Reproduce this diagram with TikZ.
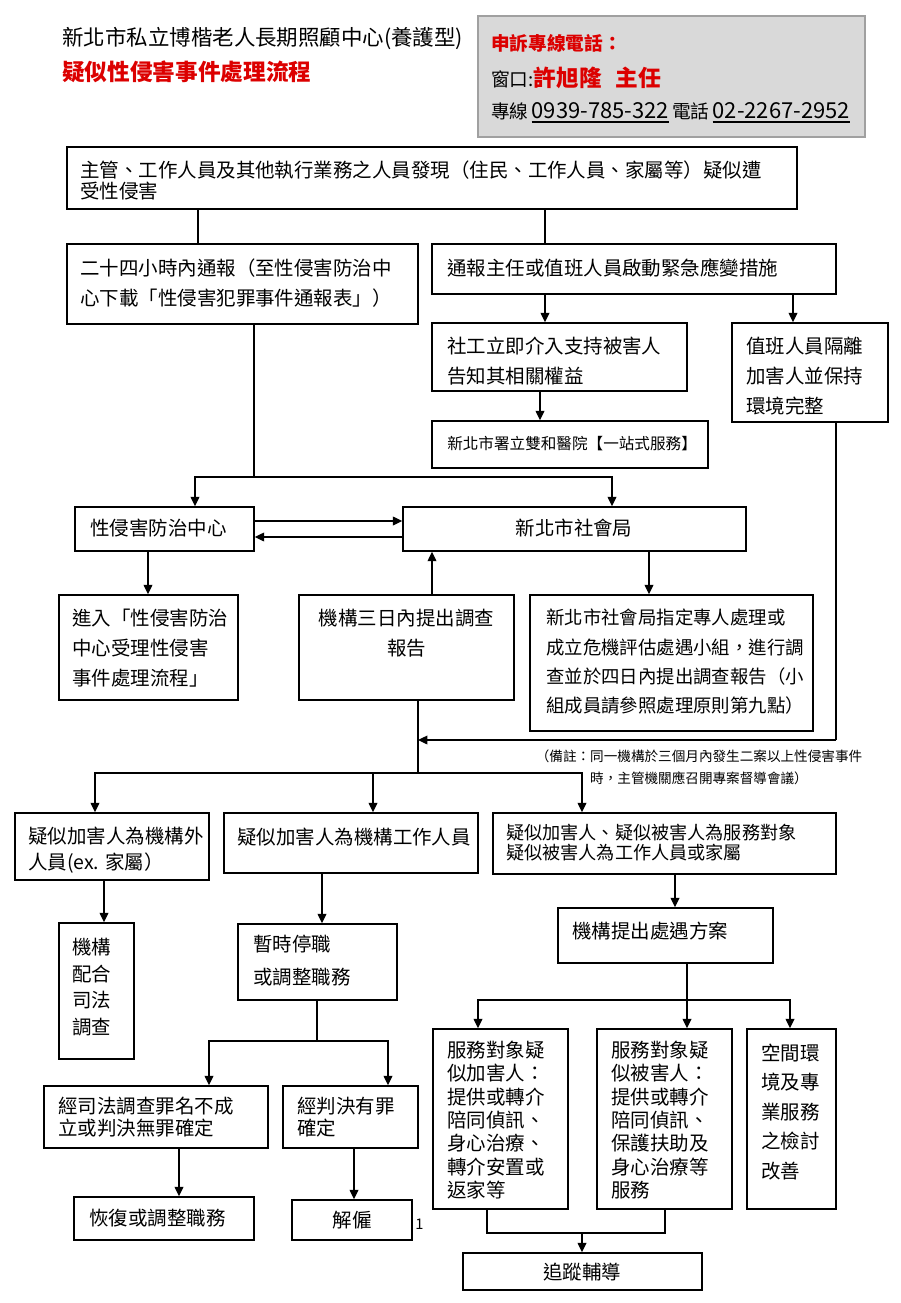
\documentclass[tikz,border=0pt]{standalone}
\usepackage{fontspec}
\setmainfont{Noto Sans CJK TC}
\usetikzlibrary{arrows.meta,fit}
\definecolor{tred}{RGB}{220,0,0}
\definecolor{gbox}{RGB}{217,217,217}
\definecolor{gedge}{RGB}{160,160,160}
\newcommand{\thickul}[1]{\begingroup\setbox0\hbox{#1}\rlap{\rule[-3.4pt]{\wd0}{1.5pt}}\box0\endgroup}
\newcommand{\bx}[5]{\node[box, fit={(#2,#3) (#4,#5)}] (#1) {};}
\tikzset{
 box/.style={draw=black, line width=1.1pt, inner sep=0pt},
 ln/.style={line width=1pt},
 arr/.style={line width=1pt, -{Triangle[length=7pt,width=6.5pt]}},
 txt/.style={inner sep=0pt, align=left, anchor=west, font=\fontsize{14.6}{22.5}\selectfont},
 ctxt/.style={inner sep=0pt, align=center, font=\fontsize{14.6}{22.5}\selectfont},
 lsp/.style={font=\fontsize{14.6}{#1}\selectfont},
}
\begin{document}
\begin{tikzpicture}[x=0.75pt,y=-0.75pt]
\path[fill=white,use as bounding box] (0,0) rectangle (900,1303);
% header
\node[fill=gbox, draw=gedge, line width=1pt, fit={(478,16) (865,137)}, inner sep=0pt] (hot) {};
\node[anchor=west, inner sep=0pt, font=\fontsize{16.1}{20}\selectfont] (title1) at (62,38) {新北市私立博楷老人長期照顧中心(養護型)};
\node[anchor=west, inner sep=0pt, text=tred, font=\fontsize{17}{20}\selectfont\bfseries] (title2) at (62,72) {疑似性侵害事件處理流程};
\node[anchor=west, inner sep=0pt, text=tred, font=\fontsize{14}{16}\selectfont\bfseries] (g1) at (491,43) {申訴專線電話：};
\node[anchor=west, inner sep=0pt, font=\fontsize{14}{16}\selectfont] (g2) at (491,78) {窗口:{\color{tred}\fontsize{17}{20}\selectfont\bfseries 許旭隆\hspace{0.6em}主任}};
\node[anchor=west, inner sep=0pt, font=\fontsize{14}{16}\selectfont] (g3) at (491,113) {專線\,\thickul{\fontsize{16.5}{18}\selectfont 0939-785-322}\,電話\,\thickul{\fontsize{16.5}{18}\selectfont 02-2267-2952}};
% boxes
\bx{b1}{67}{147}{797}{209}
\node[txt, lsp=15.75] (t1) at (80,180.5) {主管、工作人員及其他執行業務之人員發現（住民、工作人員、家屬等）疑似遭\\受性侵害};
\bx{b2}{67}{244}{418}{324}
\node[txt] (t2) at (80,283) {二十四小時內通報（至性侵害防治中\\心下載「性侵害犯罪事件通報表」）};
\bx{b3}{432}{244}{836}{294}
\node[txt] (t3) at (447,268) {通報主任或值班人員啟動緊急應變措施};
\bx{b4}{432}{323}{687}{391}
\node[txt] (t4) at (447,361) {社工立即介入支持被害人\\告知其相關權益};
\bx{b5}{732}{323}{888}{422}
\node[txt] (t5) at (746,376) {值班人員隔離\\加害人並保持\\環境完整};
\bx{b6}{432}{421}{708}{468}
\node[txt, font=\fontsize{11.7}{14}\selectfont] (t6) at (447,444) {新北市署立雙和醫院【一站式服務】};
\bx{b7}{75}{507}{254}{551}
\node[txt] (t7) at (90,528) {性侵害防治中心};
\bx{b8}{403}{507}{746}{551}
\node[ctxt] (t8) at (574,528) {新北市社會局};
\bx{b9}{59}{595}{238}{700}
\node[txt] (t9) at (72,648) {進入「性侵害防治\\中心受理性侵害\\事件處理流程」};
\bx{b10}{299}{595}{514}{700}
\node[ctxt] (t10) at (406.5,633) {機構三日內提出調查\\報告};
\bx{b11}{530}{595}{813}{731}
\node[txt, font=\fontsize{13.8}{22}\selectfont] (t11) at (546,662) {新北市社會局指定專人處理或\\成立危機評估處遇小組，進行調\\查並於四日內提出調查報告（小\\組成員請參照處理原則第九點）};
\node[ctxt, font=\fontsize{10.2}{16.5}\selectfont] (note) at (699,767) {（備註：同一機構於三個月內發生二案以上性侵害事件\\時，主管機關應召開專案督導會議）};
\bx{b12}{15}{813}{209}{880}
\node[txt, lsp=19.5] (t12) at (28,850) {疑似加害人為機構外\\人員(ex. 家屬）};
\bx{b13}{224}{813}{478}{873}
\node[txt] (t13) at (237,837) {疑似加害人為機構工作人員};
\bx{b14}{493}{813}{836}{874}
\node[txt, font=\fontsize{13.6}{15}\selectfont] (t14) at (506,843) {疑似加害人、疑似被害人為服務對象\\疑似被害人為工作人員或家屬};
\bx{b15}{59}{923}{134}{1059}
\node[txt, lsp=20] (t15) at (72,987) {機構\\配合\\司法\\調查};
\bx{b16}{238}{924}{397}{1000}
\node[txt, lsp=24.75] (t16) at (253,961) {暫時停職\\或調整職務};
\bx{b17}{558}{908}{773}{963}
\node[txt] (t17) at (572,931) {機構提出處遇方案};
\bx{b18}{44}{1086}{268}{1148}
\node[txt, lsp=16.5] (t18) at (58,1117) {經司法調查罪名不成\\立或判決無罪確定};
\bx{b19}{283}{1086}{418}{1148}
\node[txt, lsp=16.5] (t19) at (297,1117) {經判決有罪\\確定};
\bx{b20}{74}{1197}{254}{1240}
\node[txt] (t20) at (89,1218) {恢復或調整職務};
\bx{b21}{292}{1200}{412}{1240}
\node[ctxt] (t21) at (352,1220) {解僱};
\node[anchor=west, inner sep=0pt, font=\fontsize{11}{12}\selectfont] (pg) at (415,1224) {1};
\bx{b22}{433}{1029}{568}{1209}
\node[txt, lsp=17.5] (t22) at (447,1120) {服務對象疑\\似加害人：\\提供或轉介\\陪同偵訊、\\身心治療、\\轉介安置或\\返家等};
\bx{b23}{597}{1029}{732}{1209}
\node[txt, lsp=17.5] (t23) at (611,1120) {服務對象疑\\似被害人：\\提供或轉介\\陪同偵訊、\\保護扶助及\\身心治療等\\服務};
\bx{b24}{747}{1029}{836}{1209}
\node[txt, lsp=22.1] (t24) at (761,1112) {空間環\\境及專\\業服務\\之檢討\\改善};
\bx{b25}{463}{1253}{702}{1290}
\node[ctxt] (t25) at (582,1272) {追蹤輔導};
% connectors
\draw[ln] (b1.south -| 198,0) -- (b2.north -| 198,0);
\draw[ln] (b1.south -| 545,0) -- (b3.north -| 545,0);
\draw[arr] (b3.south -| 545,0) -- (b4.north -| 545,0);
\draw[arr] (b3.south -| 793,0) -- (b5.north -| 793,0);
\draw[arr] (b4.south -| 540,0) -- (b6.north -| 540,0);
\coordinate (j1) at (254,477);
\draw[ln] (b2.south -| j1) -- (j1);
\draw[arr] (j1) -| (b7.north -| 195,0);
\draw[arr] (j1) -| (b8.north -| 612,0);
\draw[arr] (b7.east |- 0,521) -- (b8.west |- 0,521);
\draw[arr] (b8.west |- 0,537) -- (b7.east |- 0,537);
\draw[arr] (b7.south -| 148,0) -- (b9.north -| 148,0);
\draw[arr] (b10.north -| 432,0) -- (b8.south -| 432,0);
\draw[arr] (b8.south -| 649,0) -- (b11.north -| 649,0);
\coordinate (j2) at (418,773);
\coordinate (j3) at (836,740);
\draw[ln] (b5.south -| j3) -- (j3);
\draw[arr] (j3) -- (j3 -| j2);
\draw[ln] (b10.south -| j2) -- (j2);
\draw[arr] (j2) -| (b12.north -| 95,0);
\draw[arr] (j2) -| (b14.north -| 582,0);
\draw[arr] (j2 -| 373,0) -- (b13.north -| 373,0);
\draw[arr] (b12.south -| 104,0) -- (b15.north -| 104,0);
\draw[arr] (b13.south -| 322,0) -- (b16.north -| 322,0);
\draw[arr] (b14.south -| 675,0) -- (b17.north -| 675,0);
\coordinate (j4) at (317,1041);
\draw[ln] (b16.south -| j4) -- (j4);
\draw[arr] (j4) -| (b18.north -| 209,0);
\draw[arr] (j4) -| (b19.north -| 388,0);
\coordinate (j5) at (687,1000);
\draw[ln] (b17.south -| j5) -- (j5);
\draw[arr] (j5) -| (b22.north -| 478,0);
\draw[arr] (j5) -| (b24.north -| 790,0);
\draw[arr] (j5) -- (b23.north -| j5);
\draw[arr] (b18.south -| 179,0) -- (b20.north -| 179,0);
\draw[arr] (b19.south -| 354,0) -- (b21.north -| 354,0);
\coordinate (j6) at (582,1233);
\draw[ln] (b22.south -| 487,0) |- (j6);
\draw[ln] (b23.south -| 665,0) |- (j6);
\draw[arr] (j6) -- (b25.north -| j6);
\end{tikzpicture}
\end{document}
